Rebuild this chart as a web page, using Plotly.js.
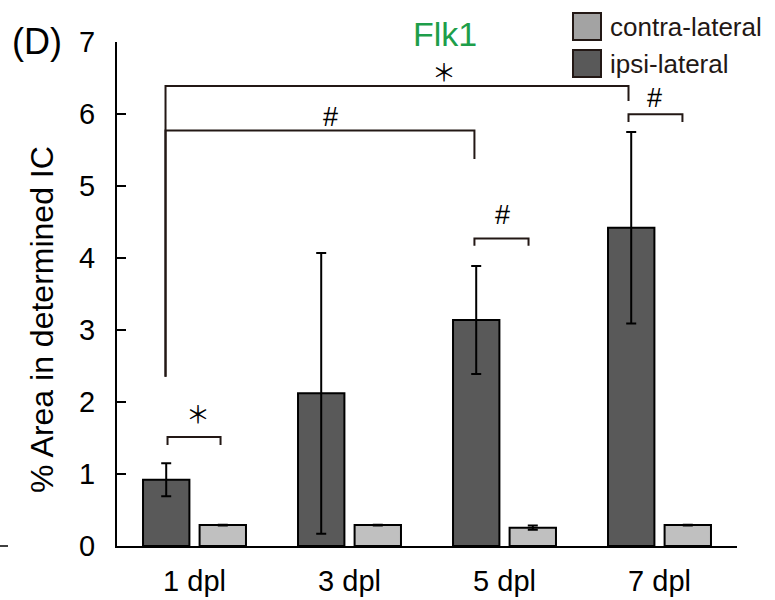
<!DOCTYPE html>
<html>
<head>
<meta charset="utf-8">
<script src="https://cdn.plot.ly/plotly-3.0.1.min.js"></script>
<style>
html,body{margin:0;padding:0;background:#fff;}
#chart{width:775px;height:600px;}
</style>
</head>
<body>
<div id="chart"></div>
<script>
// ---- data ----
const categories = ["1 dpl", "3 dpl", "5 dpl", "7 dpl"];
const ipsiValues = [0.92, 2.12, 3.14, 4.42];
const ipsiErrors = [0.23, 1.95, 0.75, 1.33];
const contraValues = [0.29, 0.29, 0.255, 0.29];
const contraErrors = [0.006, 0.006, 0.03, 0.006];
const yTicks = [0, 1, 2, 3, 4, 5, 6, 7];
const seriesNames = ["ipsi-lateral", "contra-lateral"];

// significance brackets: [x1, x2, yTop, leftLegBottom, rightLegBottom, label, labelX, labelY]
const brackets = [
  [-0.174, 0.168, 1.514, 1.403, 1.403, "＊", 0.02, 1.86],
  [1.806, 2.155, 4.27, 4.17, 4.17, "#", 1.987, 4.6],
  [2.80, 3.148, 5.995, 5.89, 5.89, "#", 2.97, 6.22],
  [-0.187, 1.806, 5.77, 2.35, 5.375, "#", 0.877, 5.96],
  [-0.187, 2.80, 6.39, 2.35, 6.18, "＊", 1.61, 6.61]
];

const xIdx = categories.map((c, i) => i);
const ipsiColor = "#595959";
const contraColor = "#c0c0c0";
const lineColor = "#231815";

const traces = [
  {
    type: "bar", name: seriesNames[0], x: xIdx, y: ipsiValues,
    marker: {color: ipsiColor, line: {color: "#000", width: 2}},
    error_y: {type: "data", array: ipsiErrors, visible: true, color: "#000", thickness: 2, width: 5},
    showlegend: false
  },
  {
    type: "bar", name: seriesNames[1], x: xIdx, y: contraValues,
    marker: {color: contraColor, line: {color: "#000", width: 2}},
    error_y: {type: "data", array: contraErrors, visible: true, color: "#000", thickness: 2, width: 5},
    showlegend: false
  }
];

// pixel helpers for layout-only items (paper coords)
const L = 117, T = 42, W = 620, H = 504;
const px = v => (v - L) / W;
const py = v => (T + H - v) / H;

const shapes = [];
const annotations = [];
brackets.forEach(b => {
  const [x1, x2, yt, yl, yr, lab, lx, ly] = b;
  shapes.push({type: "path", xref: "x", yref: "y",
    path: `M ${x1} ${yl} L ${x1} ${yt} L ${x2} ${yt} L ${x2} ${yr}`,
    line: {color: lineColor, width: 2}});
  annotations.push({xref: "x", yref: "y", x: lx, y: ly, text: lab, showarrow: false,
    xanchor: "center", yanchor: "middle",
    font: {family: lab === "#" ? "Liberation Sans" : "Noto Sans CJK JP", size: lab === "#" ? 27 : 24, color: "#000"}});
});

// legend (drawn manually)
const legendItems = [
  {name: seriesNames[1], color: "#a3a3a3", top: 13},
  {name: seriesNames[0], color: ipsiColor, top: 50}
];
legendItems.forEach(it => {
  shapes.push({type: "rect", xref: "paper", yref: "paper",
    x0: px(573), x1: px(601), y0: py(it.top + 27), y1: py(it.top),
    fillcolor: it.color, line: {color: "#231815", width: 2}});
  annotations.push({xref: "paper", yref: "paper", x: px(608), y: py(it.top + 14),
    text: it.name, showarrow: false, xanchor: "left", yanchor: "middle",
    font: {family: "Liberation Sans", size: 26, color: "#231815"}});
});

// stray dash at far left
shapes.push({type: "line", xref: "paper", yref: "paper", x0: px(0), x1: px(8), y0: py(546), y1: py(546),
  line: {color: "#000", width: 1.5}});

annotations.push({xref: "paper", yref: "paper", x: px(37), y: py(41), text: "(D)", showarrow: false,
  xanchor: "center", yanchor: "middle", font: {family: "Liberation Sans", size: 36, color: "#000"}});
annotations.push({xref: "paper", yref: "paper", x: px(445), y: py(34), text: "Flk1", showarrow: false,
  xanchor: "center", yanchor: "middle", font: {family: "Liberation Sans", size: 34, color: "#1e9e4a"}});
annotations.push({xref: "paper", yref: "paper", x: px(42), y: py(320), text: "% Area in determined IC",
  textangle: -90, showarrow: false, xanchor: "center", yanchor: "middle",
  font: {family: "Liberation Sans", size: 32, color: "#000"}});

const layout = {
  width: 775, height: 600,
  margin: {l: L, r: 775 - L - W, t: T, b: 600 - T - H, pad: 0},
  paper_bgcolor: "#fff", plot_bgcolor: "#fff",
  barmode: "group", bargap: 0.27, bargroupgap: 0.18,
  showlegend: false,
  font: {family: "Liberation Sans", color: "#000"},
  xaxis: {
    type: "linear", range: [-0.5, 3.5], tickvals: xIdx, ticktext: categories,
    showgrid: false, zeroline: false, showline: true, linecolor: "#000", linewidth: 2,
    ticks: "", ticklabelstandoff: 8,
    tickfont: {family: "Liberation Sans", size: 29, color: "#000"}
  },
  yaxis: {
    range: [0, 7], tickvals: yTicks, showgrid: false, zeroline: false,
    showline: true, linecolor: "#000", linewidth: 2,
    ticks: "inside", ticklen: 9, tickwidth: 2, tickcolor: "#000",
    ticklabelstandoff: 14,
    tickfont: {family: "Liberation Sans", size: 29, color: "#000"}
  },
  shapes: shapes,
  annotations: annotations
};

Plotly.newPlot("chart", traces, layout, {displayModeBar: false, staticPlot: true});
</script>
</body>
</html>
